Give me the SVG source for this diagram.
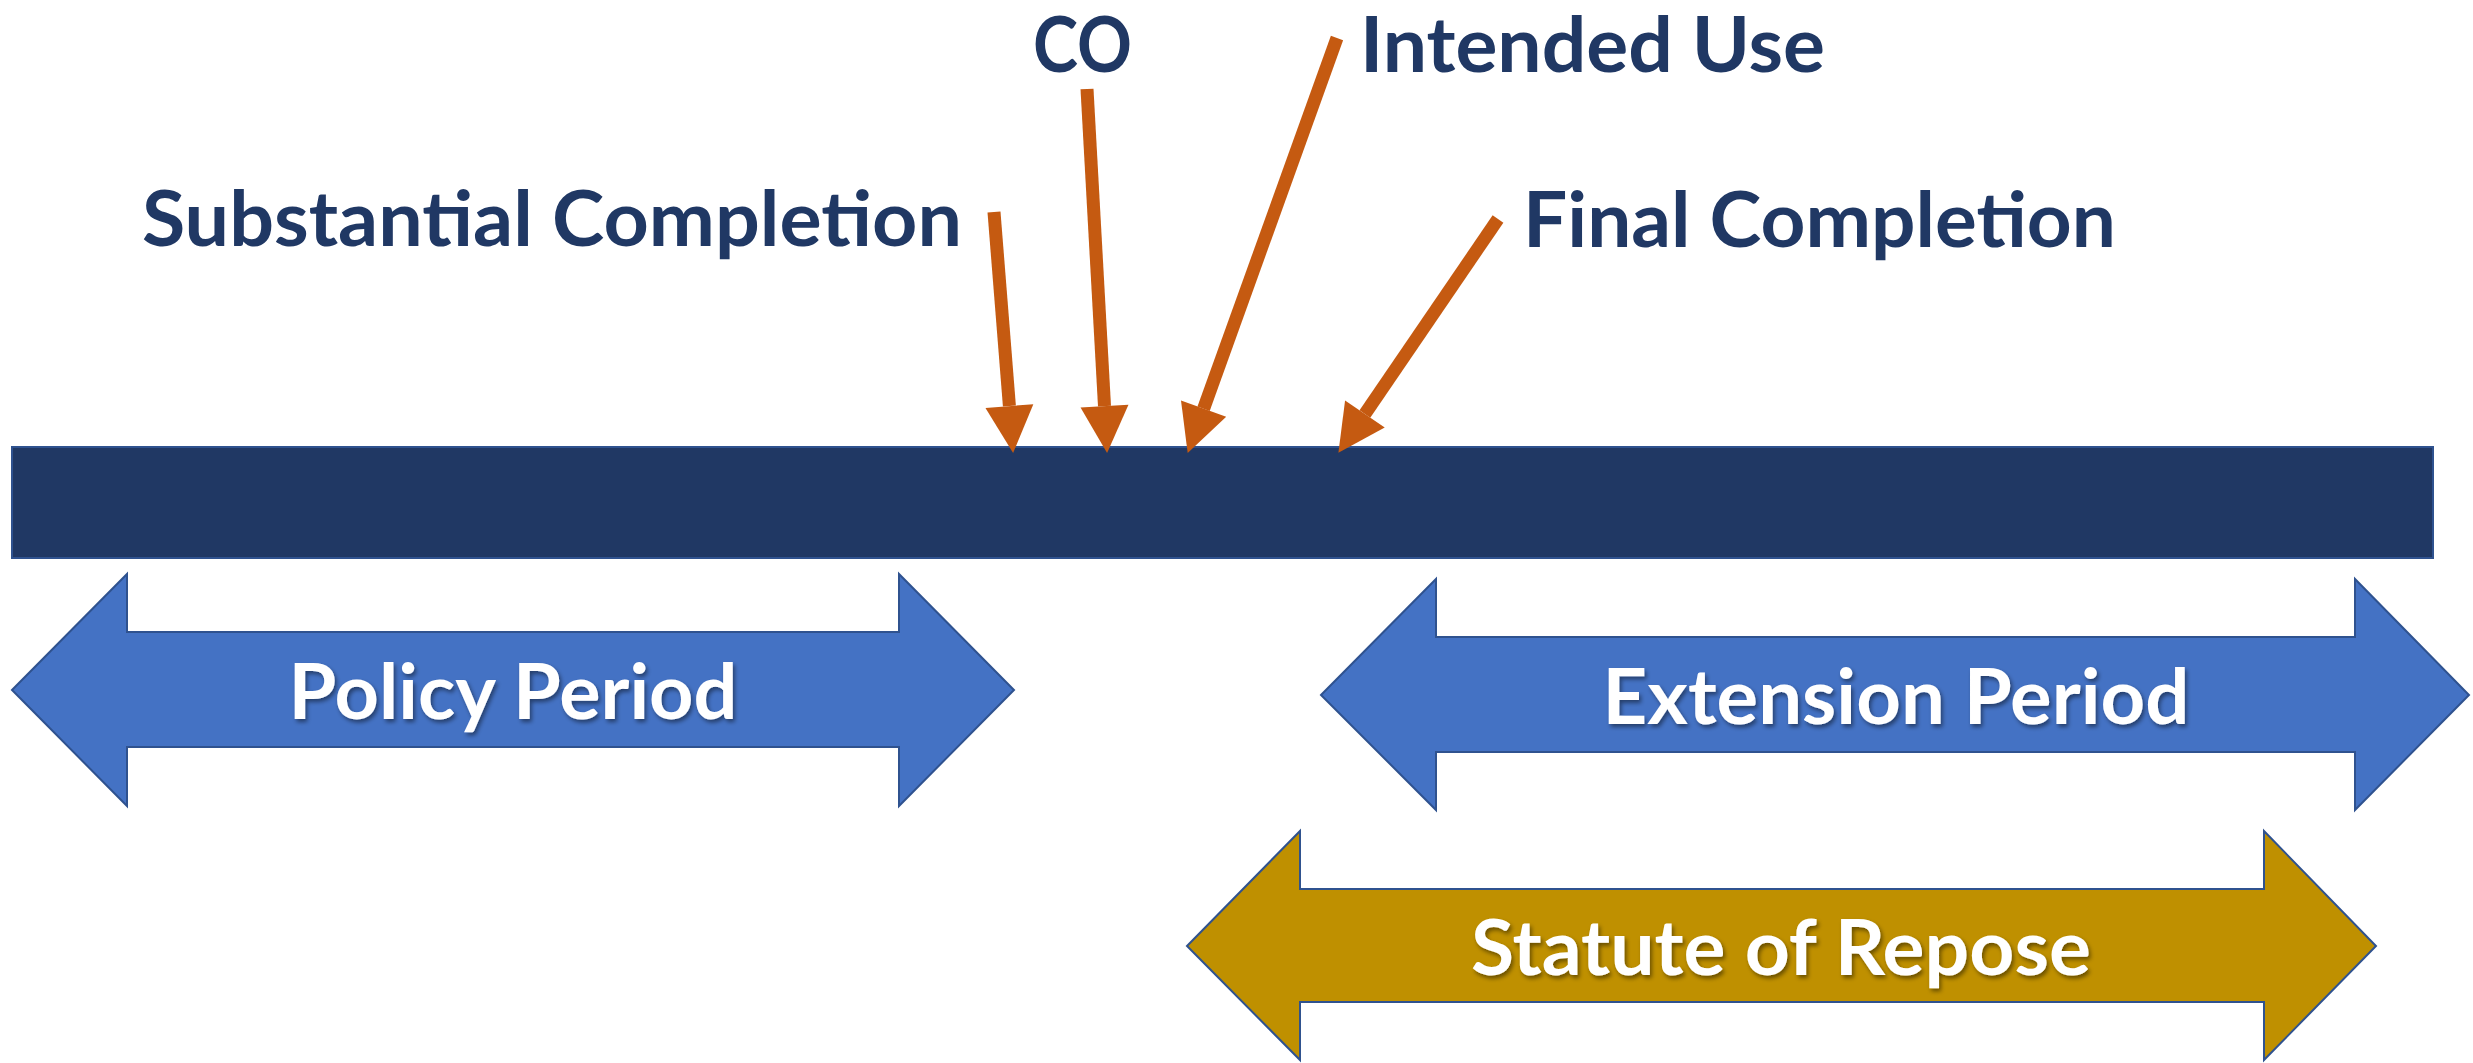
<svg xmlns="http://www.w3.org/2000/svg" width="2473" height="1063" viewBox="0 0 2473 1063">
  <style>
    .lbl { font-family: Lato, "Open Sans", "Liberation Sans", sans-serif; font-weight: bold; font-size: 76px; fill: #203864; }
    .wlbl { font-family: Lato, "Open Sans", "Liberation Sans", sans-serif; font-weight: bold; font-size: 76px; fill: #FFFFFF; text-anchor: middle; filter: url(#shadow); }
    .blue { fill: #4472C4; stroke: #2F528F; stroke-width: 2; }
    .gold { fill: #BF9000; stroke: #2F528F; stroke-width: 2; }
    .ptr { stroke: #C55A11; stroke-width: 13; fill: none; marker-end: url(#head); }
  </style>
  <defs>
    <marker id="head" markerUnits="userSpaceOnUse" markerWidth="48" markerHeight="48" refX="0" refY="24" orient="auto" overflow="visible">
      <path d="M0,0 L47,24 L0,48 z" fill="#C55A11"/>
    </marker>
    <filter id="shadow" x="-10%" y="-20%" width="120%" height="150%">
      <feDropShadow dx="2" dy="3" stdDeviation="2" flood-color="#000000" flood-opacity="0.45"/>
    </filter>
  </defs>
  <rect width="2473" height="1063" fill="#FFFFFF"/>

  <g id="timeline">
    <rect x="12" y="447" width="2421" height="111" fill="#203864" stroke="#2F528F" stroke-width="2"/>
  </g>

  <g id="policy-period">
    <polygon class="blue" points="12,690 127,574 127,632 899,632 899,574 1014,690 899,806 899,747 127,747 127,806"/>
    <text class="wlbl" x="513" y="719" textLength="449" lengthAdjust="spacingAndGlyphs">Policy Period</text>
  </g>

  <g id="extension-period">
    <polygon class="blue" points="1321,695 1436,579 1436,637 2355,637 2355,579 2469,695 2355,810 2355,752 1436,752 1436,810"/>
    <text class="wlbl" x="1896" y="724" textLength="587" lengthAdjust="spacingAndGlyphs">Extension Period</text>
  </g>

  <g id="statute-of-repose">
    <polygon class="gold" points="1187,946 1300,831 1300,889 2264,889 2264,831 2376,946 2264,1060 2264,1002 1300,1002 1300,1060"/>
    <text class="wlbl" x="1781" y="975" textLength="620" lengthAdjust="spacingAndGlyphs">Statute of Repose</text>
  </g>

  <g id="label-substantial-completion">
    <text class="lbl" x="142" y="246" textLength="820" lengthAdjust="spacingAndGlyphs">Substantial Completion</text>
  </g>
  <g id="label-co">
    <text class="lbl" x="1033" y="72" textLength="99" lengthAdjust="spacingAndGlyphs">CO</text>
  </g>
  <g id="label-intended-use">
    <text class="lbl" x="1360" y="72" font-size="72" textLength="465" lengthAdjust="spacingAndGlyphs">Intended Use</text>
  </g>
  <g id="label-final-completion">
    <text class="lbl" x="1523" y="247" textLength="593" lengthAdjust="spacingAndGlyphs">Final Completion</text>
  </g>

  <g id="connectors">
    <line class="ptr" x1="994" y1="212" x2="1009.4" y2="406.1"/>
    <line class="ptr" x1="1087" y1="89" x2="1104.5" y2="406.1"/>
    <line class="ptr" x1="1337" y1="38" x2="1203.6" y2="408.7"/>
    <line class="ptr" x1="1498" y1="219" x2="1364.9" y2="414"/>
  </g>
</svg>
